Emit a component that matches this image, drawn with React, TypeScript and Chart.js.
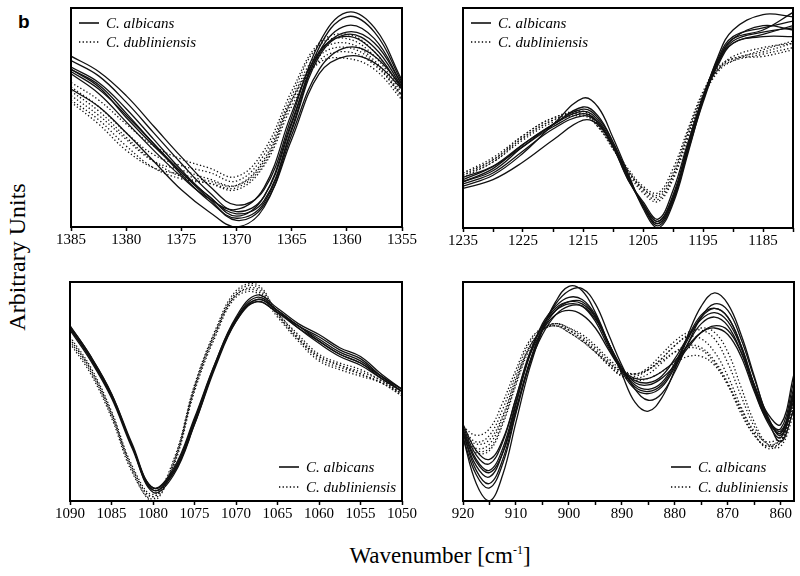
import React, { useEffect, useRef } from "react";
import { Chart, registerables } from "chart.js";

Chart.register(...registerables);

const SERIF = "'Liberation Serif', 'Times New Roman', serif";
Chart.defaults.font.family = SERIF;

// ---------- Panel 1: 1385–1355 cm-1 ----------
const p1X = [1385, 1382.5, 1380, 1377.5, 1375, 1372.5, 1370, 1367.5, 1365, 1362.5, 1360, 1357.5, 1355];
const p1Albicans = [
  [78, 71, 60, 46, 32, 19, 10, 17, 50, 84, 98, 91, 67],
  [76, 69, 57, 43, 29, 16, 7, 14, 47, 82, 96, 89, 66],
  [73, 66, 54, 40, 26, 14, 6, 12, 45, 80, 92, 86, 65],
  [72, 64, 50, 37, 25, 14, 5, 14, 48, 79, 89, 84, 65],
  [71, 63, 51, 38, 24, 12, 4, 11, 44, 78, 88, 82, 64],
  [70, 61, 48, 35, 23, 13, 8, 18, 52, 80, 87, 80, 63],
  [63, 55, 43, 30, 17, 7, 0, 9, 42, 72, 82, 78, 64],
  [72, 65, 52, 38, 25, 13, 3, 10, 40, 70, 78, 75, 63],
];
const p1Dubliniensis = [
  [66, 58, 47, 37, 31, 27, 23, 35, 62, 84, 88, 80, 62],
  [64, 55, 43, 33, 28, 25, 21, 33, 60, 83, 86, 78, 61],
  [60, 51, 40, 30, 26, 22, 19, 30, 58, 80, 84, 76, 60],
  [58, 49, 37, 27, 22, 20, 18, 29, 57, 78, 82, 75, 59],
  [57, 47, 35, 27, 24, 21, 19, 31, 58, 75, 77, 72, 58],
  [62, 53, 41, 30, 23, 20, 17, 28, 55, 76, 80, 74, 60],
];
const p1Ticks = [1385, 1380, 1375, 1370, 1365, 1360, 1355];
const p1Labels = [1385, 1380, 1375, 1370, 1365, 1360, 1355];

// ---------- Panel 2: 1235–1180 cm-1 ----------
const p2X = [1235, 1230, 1225, 1220, 1215, 1212.5, 1210, 1207.5, 1205, 1202.5, 1200, 1197.5, 1195, 1192.5, 1190, 1185, 1180];
const p2Albicans = [
  [19, 24, 34, 47, 59, 55, 41, 25, 9, 0, 11, 34, 58, 78, 90, 97, 96],
  [21, 26, 37, 47, 54, 50, 39, 24, 10, 2, 13, 36, 59, 76, 86, 90, 98],
  [22, 28, 38, 47, 53, 49, 38, 23, 11, 3, 15, 38, 60, 76, 86, 92, 90],
  [23, 28, 37, 46, 52, 48, 37, 22, 12, 4, 17, 39, 59, 74, 84, 88, 92],
  [20, 25, 35, 45, 51, 48, 37, 23, 10, 1, 12, 35, 57, 75, 85, 89, 91],
  [18, 22, 30, 40, 49, 47, 37, 22, 11, 3, 14, 36, 58, 75, 84, 87, 87],
  [21, 27, 38, 47, 55, 51, 39, 24, 10, 2, 13, 37, 59, 77, 87, 91, 94],
];
const p2Dubliniensis = [
  [24, 31, 41, 49, 53, 47, 37, 26, 17, 13, 23, 42, 60, 72, 77, 80, 84],
  [25, 32, 42, 50, 52, 46, 36, 26, 18, 15, 25, 44, 61, 72, 76, 79, 82],
  [23, 30, 40, 48, 51, 46, 36, 25, 16, 12, 22, 41, 59, 71, 76, 81, 85],
  [24, 30, 41, 49, 52, 47, 37, 27, 19, 16, 27, 45, 62, 73, 77, 78, 81],
  [25, 31, 42, 50, 53, 47, 37, 26, 18, 14, 24, 43, 60, 72, 78, 82, 84],
];
const p2Ticks = [1235, 1230, 1225, 1220, 1215, 1210, 1205, 1200, 1195, 1190, 1185, 1180];
const p2Labels = [1235, 1225, 1215, 1205, 1195, 1185];

// ---------- Panel 3: 1090–1050 cm-1 ----------
const p3X = [1090, 1087.5, 1085, 1082.5, 1080, 1077.5, 1075, 1072.5, 1070, 1067.5, 1065, 1062.5, 1060, 1057.5, 1055, 1052.5, 1050];
const p3Albicans = [
  [80, 66, 49, 26, 6, 14, 37, 63, 84, 94, 88, 81, 76, 70, 66, 58, 51],
  [79, 65, 48, 25, 5, 13, 36, 62, 83, 92, 87, 80, 74, 68, 64, 57, 51],
  [79, 65, 48, 25, 6, 14, 37, 62, 82, 91, 86, 79, 73, 67, 63, 56, 50],
  [78, 64, 47, 24, 5, 13, 35, 61, 82, 92, 87, 80, 75, 69, 65, 57, 50],
  [80, 66, 49, 25, 4, 12, 35, 62, 83, 93, 87, 79, 72, 66, 62, 56, 50],
  [79, 65, 48, 25, 6, 15, 38, 63, 83, 91, 86, 80, 73, 67, 63, 57, 51],
];
const p3Dubliniensis = [
  [74, 60, 40, 15, 2, 18, 52, 77, 95, 98, 86, 75, 66, 62, 59, 55, 49],
  [73, 59, 39, 14, 0, 17, 51, 76, 94, 96, 85, 74, 65, 61, 58, 54, 48],
  [75, 61, 41, 16, 3, 19, 53, 78, 96, 99, 86, 76, 67, 63, 60, 55, 49],
  [72, 58, 38, 13, 1, 16, 50, 75, 93, 95, 84, 73, 64, 60, 57, 54, 48],
  [74, 60, 40, 15, 2, 17, 52, 77, 94, 97, 85, 74, 66, 62, 58, 54, 49],
];
const p3Ticks = [1090, 1085, 1080, 1075, 1070, 1065, 1060, 1055, 1050];
const p3Labels = [1090, 1085, 1080, 1075, 1070, 1065, 1060, 1055, 1050];

// ---------- Panel 4: 920–857.5 cm-1 ----------
const p4X = [920, 917.5, 915, 912.5, 910, 907.5, 905, 902.5, 900, 897.5, 895, 892.5, 890, 887.5, 885, 882.5, 880, 877.5, 875, 872.5, 870, 867.5, 865, 862.5, 860, 857.5];
const p4Albicans = [
  [29, 8, 0, 12, 36, 60, 78, 91, 98, 96, 86, 72, 58, 45, 41, 47, 60, 76, 89, 95, 90, 76, 57, 38, 27, 42],
  [31, 14, 8, 19, 41, 63, 79, 90, 96, 97, 90, 76, 62, 51, 46, 49, 59, 72, 84, 90, 87, 74, 56, 39, 30, 46],
  [33, 19, 14, 24, 45, 66, 80, 88, 91, 90, 84, 72, 60, 53, 51, 54, 63, 75, 85, 88, 84, 71, 53, 38, 32, 50],
  [34, 21, 17, 27, 47, 67, 80, 87, 90, 89, 82, 70, 60, 55, 54, 57, 65, 75, 83, 86, 82, 70, 52, 37, 31, 52],
  [29, 12, 6, 17, 40, 62, 78, 87, 91, 91, 84, 71, 59, 51, 49, 52, 61, 72, 81, 84, 80, 68, 51, 36, 29, 48],
  [35, 23, 19, 28, 47, 66, 78, 85, 87, 85, 79, 69, 60, 56, 56, 59, 64, 71, 77, 79, 76, 66, 50, 37, 33, 55],
  [31, 16, 11, 22, 44, 66, 81, 89, 93, 92, 85, 72, 60, 52, 50, 53, 62, 74, 84, 88, 84, 71, 53, 38, 31, 49],
  [32, 18, 13, 22, 42, 62, 76, 85, 89, 89, 83, 72, 61, 54, 53, 56, 62, 70, 77, 80, 78, 68, 53, 40, 35, 58],
];
const p4Dubliniensis = [
  [30, 24, 26, 38, 55, 70, 78, 80, 78, 74, 69, 63, 58, 57, 60, 65, 71, 75, 74, 68, 57, 43, 31, 24, 27, 44],
  [33, 27, 30, 42, 58, 72, 79, 81, 78, 74, 68, 62, 57, 56, 58, 63, 68, 71, 70, 64, 54, 41, 30, 25, 29, 46],
  [28, 22, 23, 35, 53, 69, 78, 81, 79, 75, 70, 64, 59, 58, 61, 67, 73, 77, 78, 74, 63, 48, 34, 26, 28, 43],
  [34, 30, 33, 45, 60, 73, 79, 80, 77, 73, 68, 62, 57, 55, 56, 59, 63, 66, 66, 62, 53, 42, 32, 27, 30, 48],
  [31, 26, 28, 39, 56, 70, 78, 80, 77, 73, 68, 63, 59, 58, 60, 64, 68, 70, 69, 63, 53, 40, 30, 25, 27, 42],
  [29, 23, 24, 36, 54, 70, 78, 81, 79, 76, 71, 65, 60, 58, 60, 65, 71, 76, 79, 77, 68, 52, 36, 26, 25, 40],
];
const p4Ticks = [920, 915, 910, 905, 900, 895, 890, 885, 880, 875, 870, 865, 860];
const p4Labels = [920, 910, 900, 890, 880, 870, 860];

const legendNames = ["C. albicans", "C. dubliniensis"];

type Box = { left: number; top: number; width: number; height: number };
type PanelProps = {
  box: Box;
  xs: number[];
  solids: number[][];
  dots: number[][];
  xMin: number;
  xMax: number;
  ticks: number[];
  labels: number[];
  legend: "tl" | "br";
};

const PAD_X = 30;
const PAD_TOP = 4;
const AXIS_H = 32;
const DOT_DASH = [1.3, 2.3];

function Panel({ box, xs, solids, dots, xMin, xMax, ticks, labels, legend }: PanelProps) {
  const ref = useRef<HTMLCanvasElement>(null);
  useEffect(() => {
    const canvas = ref.current;
    if (!canvas) return;
    const pts = (vals: number[]) => xs.map((x, i) => ({ x, y: vals[i] }));
    const datasets: any[] = [
      ...solids.map((v) => ({
        label: legendNames[0],
        data: pts(v),
        borderColor: "#111",
        borderWidth: 1.3,
        pointRadius: 0,
        tension: 0.4,
        fill: false,
      })),
      ...dots.map((v) => ({
        label: legendNames[1],
        data: pts(v),
        borderColor: "#111",
        borderWidth: 1.3,
        borderDash: DOT_DASH,
        pointRadius: 0,
        tension: 0.4,
        fill: false,
      })),
    ];
    const frame = {
      id: "frameAndLegend",
      afterDraw(chart: any) {
        const { ctx, chartArea: a } = chart;
        ctx.save();
        ctx.strokeStyle = "#000";
        ctx.lineWidth = 2;
        ctx.setLineDash([]);
        ctx.strokeRect(a.left, a.top, a.right - a.left, a.bottom - a.top);
        ctx.font = `italic 15px ${SERIF}`;
        ctx.fillStyle = "#000";
        ctx.textBaseline = "middle";
        ctx.textAlign = "left";
        const w = Math.max(...legendNames.map((n) => ctx.measureText(n).width));
        let textX: number;
        let rows: number[];
        if (legend === "tl") {
          textX = a.left + 35;
          rows = [a.top + 15, a.top + 34];
        } else {
          textX = a.right - 6 - w;
          rows = [a.bottom - 34, a.bottom - 14];
        }
        legendNames.forEach((name, i) => {
          const y = rows[i];
          ctx.beginPath();
          ctx.lineWidth = 1.5;
          ctx.setLineDash(i === 0 ? [] : DOT_DASH);
          ctx.moveTo(textX - 27, y);
          ctx.lineTo(textX - 7, y);
          ctx.stroke();
          ctx.fillText(name, textX, y + 1);
        });
        ctx.restore();
      },
    };
    const chart = new Chart(canvas, {
      type: "line",
      data: { datasets },
      options: {
        responsive: false,
        animation: false,
        devicePixelRatio: 1,
        layout: { padding: { left: PAD_X, right: PAD_X, top: PAD_TOP, bottom: 0 } },
        plugins: { legend: { display: false }, tooltip: { enabled: false } },
        elements: { point: { radius: 0 } },
        scales: {
          x: {
            type: "linear",
            min: xMin,
            max: xMax,
            reverse: true,
            afterBuildTicks: (s: any) => {
              s.ticks = ticks.map((value) => ({ value }));
            },
            afterFit: (s: any) => {
              s.height = AXIS_H;
            },
            border: { display: false },
            grid: {
              drawOnChartArea: false,
              drawTicks: true,
              tickLength: 4,
              tickColor: "#000",
              tickWidth: 1.5,
            },
            ticks: {
              autoSkip: false,
              maxRotation: 0,
              padding: 0,
              color: "#000",
              font: { family: SERIF, size: 15 },
              callback: (v: any) => (labels.includes(Number(v)) ? String(v) : ""),
            },
          },
          y: { display: false, min: 0, max: 100 },
        },
      } as any,
      plugins: [frame],
    });
    return () => chart.destroy();
  }, []);
  return (
    <canvas
      ref={ref}
      width={box.width + 2 * PAD_X}
      height={box.height + PAD_TOP + AXIS_H}
      style={{ position: "absolute", left: box.left - PAD_X, top: box.top - PAD_TOP }}
    />
  );
}

export default function App() {
  return (
    <div
      style={{
        position: "absolute",
        left: 0,
        top: 0,
        width: 800,
        height: 576,
        background: "#fff",
        overflow: "hidden",
      }}
    >
      <Panel box={{ left: 71, top: 8, width: 331, height: 219 }} xs={p1X} solids={p1Albicans} dots={p1Dubliniensis} xMin={1355} xMax={1385} ticks={p1Ticks} labels={p1Labels} legend="tl" />
      <Panel box={{ left: 463, top: 8, width: 330, height: 220 }} xs={p2X} solids={p2Albicans} dots={p2Dubliniensis} xMin={1180} xMax={1235} ticks={p2Ticks} labels={p2Labels} legend="tl" />
      <Panel box={{ left: 70, top: 282, width: 332, height: 219 }} xs={p3X} solids={p3Albicans} dots={p3Dubliniensis} xMin={1050} xMax={1090} ticks={p3Ticks} labels={p3Labels} legend="br" />
      <Panel box={{ left: 463, top: 282, width: 331, height: 219 }} xs={p4X} solids={p4Albicans} dots={p4Dubliniensis} xMin={857.5} xMax={920} ticks={p4Ticks} labels={p4Labels} legend="br" />
      <div
        style={{
          position: "absolute",
          left: 18,
          top: 12,
          fontFamily: "'Liberation Sans', Arial, sans-serif",
          fontWeight: "bold",
          fontSize: 19,
          lineHeight: "19px",
        }}
      >
        b
      </div>
      <div
        style={{
          position: "absolute",
          left: 17,
          top: 257,
          transform: "translate(-50%, -50%) rotate(-90deg)",
          whiteSpace: "nowrap",
          fontFamily: SERIF,
          fontSize: 24,
          lineHeight: "24px",
        }}
      >
        Arbitrary Units
      </div>
      <div
        style={{
          position: "absolute",
          left: 440,
          top: 544,
          transform: "translateX(-50%)",
          whiteSpace: "nowrap",
          fontFamily: SERIF,
          fontSize: 23,
          lineHeight: "23px",
        }}
      >
        Wavenumber [cm
        <span style={{ position: "relative", top: -9, fontSize: 12 }}>-1</span>]
      </div>
    </div>
  );
}
